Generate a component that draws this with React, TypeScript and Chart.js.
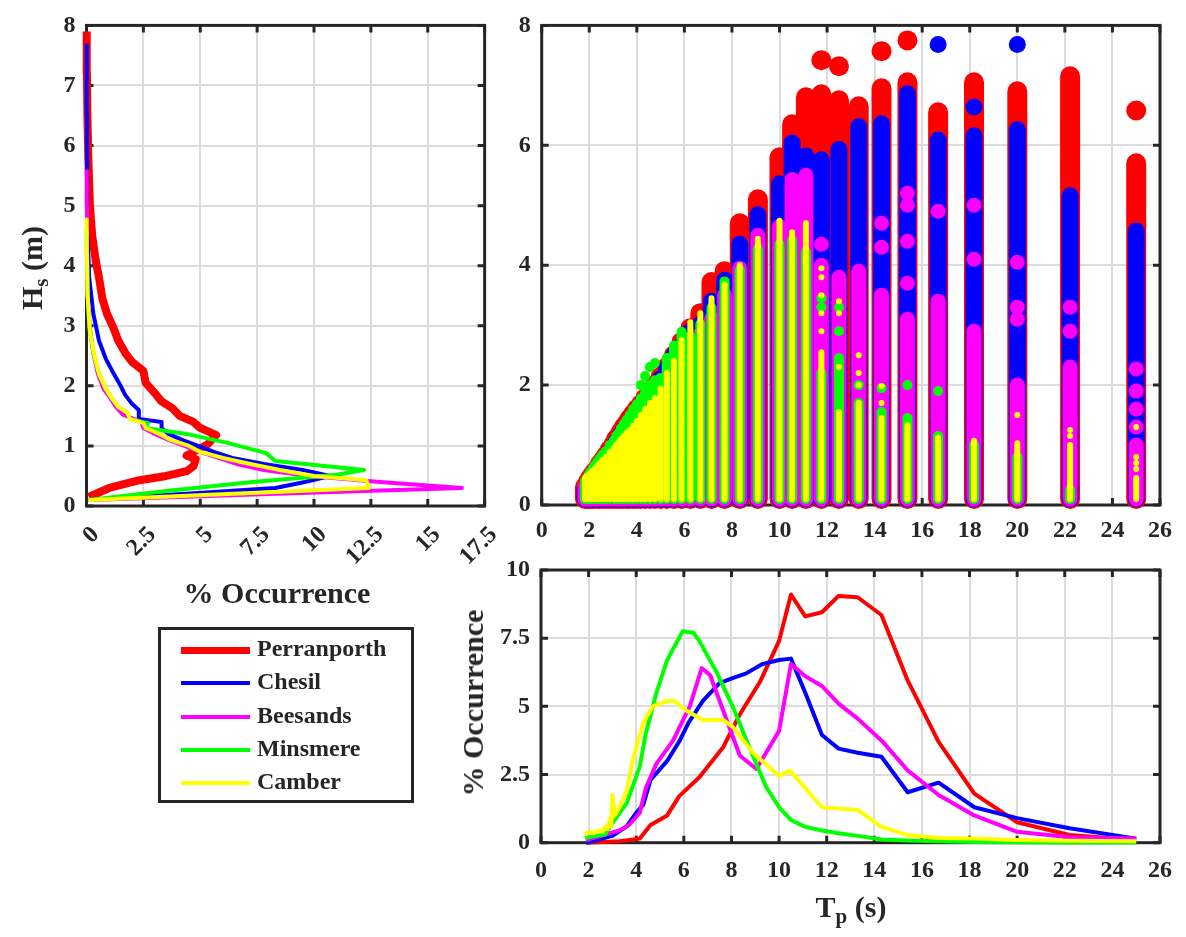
import React, { useEffect, useRef } from 'react';
import { Chart, registerables } from 'chart.js';

Chart.register(...registerables);

const FONT = "'Liberation Serif', 'Times New Roman', Times, serif";
const INK = '#262626';
const GRID = '#dcdcdc';
const TICK_FONT = { family: FONT, size: 24, weight: 'bold' as const };

const SITES = ['Perranporth', 'Chesil', 'Beesands', 'Minsmere', 'Camber'];
const SITE_COLORS = ['#ff0000', '#0000ff', '#ff00ff', '#00ff00', '#ffff00'];

// ---------- Tick values ----------
const OCC_TICKS_LEFT = [0, 2.5, 5, 7.5, 10, 12.5, 15, 17.5];
const HS_TICKS_LEFT = [0, 1, 2, 3, 4, 5, 6, 7, 8];
const HS_TICKS_SCATTER = [0, 2, 4, 6, 8];
const TP_TICKS = [0, 2, 4, 6, 8, 10, 12, 14, 16, 18, 20, 22, 24, 26];
const OCC_TICKS_BOTTOM = [0, 2.5, 5, 7.5, 10];

// ---------- Left panel: [% occurrence, Hs (m)] ----------
const hsDistPerranporth = [
  [0.1, 0.15], [1.0, 0.3], [2.2, 0.42], [3.5, 0.5], [4.4, 0.58], [4.7, 0.66], [4.8, 0.78], [4.4, 0.84],
  [4.8, 0.92], [5.3, 1.02], [5.7, 1.18], [5.0, 1.3], [4.7, 1.4], [4.1, 1.5], [3.8, 1.62], [3.3, 1.74],
  [3.0, 1.88], [2.6, 2.05], [2.5, 2.25], [2.0, 2.4], [1.7, 2.55], [1.4, 2.75], [1.2, 2.95], [0.9, 3.2],
  [0.7, 3.45], [0.55, 3.8], [0.4, 4.1], [0.25, 4.5], [0.15, 5.0], [0.08, 5.8], [0.04, 6.5], [0.02, 7.2], [0.01, 7.9],
];
const hsDistChesil = [
  [0.1, 0.1], [4.2, 0.2], [8.3, 0.3], [9.6, 0.4], [10.7, 0.5], [9.5, 0.6], [7.8, 0.7], [6.4, 0.8], [5.6, 0.9],
  [4.9, 1.0], [4.2, 1.1], [3.6, 1.2], [3.3, 1.3], [3.3, 1.4], [2.3, 1.45], [2.3, 1.6], [2.0, 1.7], [1.7, 1.85],
  [1.5, 2.0], [1.2, 2.2], [0.85, 2.45], [0.55, 2.75], [0.3, 3.2], [0.12, 3.8], [0.05, 4.5], [0.03, 5.5],
  [0.02, 6.5], [0.01, 7.7],
];
const hsDistBeesands = [
  [0.1, 0.1], [8.0, 0.2], [16.5, 0.3], [12.9, 0.4], [9.8, 0.5], [7.8, 0.6], [6.6, 0.7], [5.8, 0.8], [5.0, 0.9],
  [4.3, 1.0], [3.6, 1.1], [3.0, 1.2], [2.5, 1.3], [2.4, 1.4], [1.6, 1.52], [1.3, 1.65], [1.0, 1.82], [0.75, 1.95],
  [0.5, 2.2], [0.3, 2.55], [0.15, 2.95], [0.05, 3.5], [0.03, 4.2], [0.02, 5.0], [0.01, 5.6],
];
const hsDistMinsmere = [
  [0.1, 0.1], [3.5, 0.25], [7.3, 0.4], [11.0, 0.52], [12.2, 0.6], [8.3, 0.75], [7.9, 0.88], [6.2, 1.05],
  [4.4, 1.2], [2.6, 1.3], [2.7, 1.38], [1.9, 1.45], [1.8, 1.55], [1.4, 1.65], [1.1, 1.8], [0.85, 1.95],
  [0.55, 2.2], [0.3, 2.55], [0.12, 3.0], [0.04, 3.6], [0.02, 4.2], [0.01, 4.6],
];
const hsDistCamber = [
  [0.1, 0.1], [6.2, 0.2], [12.4, 0.3], [12.3, 0.43], [10.0, 0.5], [8.5, 0.6], [7.2, 0.7], [6.0, 0.8], [5.0, 0.9],
  [4.5, 1.0], [3.7, 1.1], [3.2, 1.2], [2.6, 1.3], [2.5, 1.38], [1.9, 1.45], [1.8, 1.55], [1.4, 1.65], [1.1, 1.8],
  [0.85, 1.95], [0.55, 2.2], [0.35, 2.5], [0.15, 2.9], [0.05, 3.5], [0.02, 4.2], [0.01, 4.8],
];
const HS_DISTS = [hsDistPerranporth, hsDistChesil, hsDistBeesands, hsDistMinsmere, hsDistCamber];

// ---------- Top-right panel: Tp bins and Hs range per bin ----------
const TP_BINS = [
  1.82, 1.89, 1.96, 2.04, 2.13, 2.22, 2.33, 2.44, 2.56, 2.7, 2.86, 3.03, 3.13, 3.23, 3.33, 3.45,
  3.57, 3.7, 3.85, 4.0, 4.17, 4.35, 4.55, 4.76, 5.0, 5.26, 5.56, 5.88, 6.25, 6.67, 7.14, 7.69,
  8.33, 9.09, 10.0, 10.53, 11.11, 11.76, 12.5, 13.33, 14.29, 15.38, 16.67, 18.18, 20.0, 22.22, 25.0,
];
const HS_MIN = 0.1;
const hsMaxPerranporth = [
  0.3, 0.34, 0.4, 0.45, 0.5, 0.55, 0.6, 0.68, 0.74, 0.82, 0.92, 1.02, 1.1, 1.15, 1.22, 1.3,
  1.36, 1.44, 1.52, 1.6, 1.68, 1.78, 1.9, 2.0, 2.14, 2.3, 2.5, 2.72, 2.95, 3.2, 3.72, 3.9,
  4.7, 5.1, 5.8, 6.35, 6.8, 6.85, 6.75, 6.65, 6.95, 7.05, 6.55, 7.05, 6.9, 7.15, 5.7,
];
const hsMaxChesil = [
  0.25, 0.3, 0.35, 0.4, 0.45, 0.5, 0.55, 0.62, 0.7, 0.78, 0.88, 0.98, 1.05, 1.1, 1.17, 1.25,
  1.3, 1.38, 1.46, 1.55, 1.62, 1.72, 1.85, 1.95, 2.1, 2.28, 2.5, 2.66, 2.9, 3.02, 3.4, 3.75,
  4.35, 4.84, 5.36, 6.04, 5.82, 5.76, 5.93, 6.31, 6.36, 6.86, 6.09, 6.16, 6.26, 5.16, 4.57,
];
const hsMaxBeesands = [
  0.3, 0.35, 0.4, 0.45, 0.48, 0.5, 0.55, 0.6, 0.65, 0.72, 0.8, 0.9, 0.95, 1.0, 1.05, 1.12,
  1.18, 1.25, 1.32, 1.4, 1.48, 1.55, 1.65, 1.75, 1.9, 2.05, 2.25, 2.45, 2.6, 2.85, 3.1, 3.5,
  3.95, 4.5, 4.64, 5.43, 5.5, 4.0, 3.8, 3.9, 3.5, 3.1, 3.4, 2.9, 2.0, 2.3, 1.0,
];
const hsMaxMinsmere = [
  0.4, 0.45, 0.5, 0.55, 0.6, 0.66, 0.72, 0.78, 0.84, 0.9, 1.0, 1.08, 1.15, 1.2, 1.28, 1.35,
  1.42, 1.5, 1.6, 1.68, 1.78, 1.88, 2.0, 2.08, 2.12, 2.45, 2.66, 2.89, 2.82, 3.02, 3.29, 3.73,
  3.92, 4.27, 4.35, 4.41, 4.22, 2.2, 2.45, 1.7, 1.55, 1.45, 1.15, 1.0, 0.8, 0.25, null,
];
const hsMaxCamber = [
  0.45, 0.48, 0.5, 0.53, 0.57, 0.6, 0.65, 0.7, 0.75, 0.8, 0.88, 0.95, 1.0, 1.05, 1.1, 1.15,
  1.2, 1.25, 1.32, 1.4, 1.5, 1.6, 1.7, 1.78, 1.94, 2.2, 2.4, 2.75, 3.05, 3.2, 3.45, 3.68,
  4.0, 4.44, 4.74, 4.55, 4.7, 2.55, 1.55, 1.7, 1.45, 1.33, 1.12, 1.07, 1.03, 1.0, 0.45,
];
const HS_MAXES = [hsMaxPerranporth, hsMaxChesil, hsMaxBeesands, hsMaxMinsmere, hsMaxCamber];

// isolated observations [Tp (s), Hs (m)]
const extraPerranporth = [[11.76, 7.42], [12.5, 7.32], [14.29, 7.57], [15.38, 7.75], [25, 6.58]];
const extraChesil = [[16.67, 7.68], [20, 7.68], [18.18, 6.64]];
const extraBeesands = [
  [11.76, 4.35], [14.29, 4.7], [14.29, 4.3], [15.38, 5.2], [15.38, 5.0], [15.38, 4.4], [15.38, 3.7],
  [16.67, 4.9], [18.18, 5.0], [18.18, 4.1], [20, 4.05], [20, 3.3], [20, 3.1], [22.22, 3.3], [22.22, 2.9],
  [25, 2.27], [25, 1.9], [25, 1.6], [25, 1.3],
];
const extraMinsmere = [
  [4.17, 2.0], [4.35, 2.15], [4.55, 2.3], [4.76, 2.37], [11.76, 3.45], [11.76, 3.3], [12.5, 3.3],
  [12.5, 2.9], [13.33, 2.0], [14.29, 1.95], [15.38, 2.0], [16.67, 1.9],
];
const extraCamber = [
  [11.76, 3.95], [11.76, 3.8], [11.76, 3.5], [11.76, 3.2], [11.76, 2.9], [12.5, 3.4], [12.5, 3.2],
  [12.5, 2.3], [13.33, 2.5], [13.33, 2.2], [13.33, 2.0], [14.29, 1.98], [14.29, 1.7], [20, 1.5],
  [22.22, 1.25], [22.22, 1.15], [25, 1.3], [25, 0.8], [25, 0.7], [25, 0.6],
];
const EXTRAS = [extraPerranporth, extraChesil, extraBeesands, extraMinsmere, extraCamber];

// ---------- Bottom-right panel: [Tp (s), % occurrence] ----------
const tpDistPerranporth = [
  [1.9, 0], [3.3, 0.05], [4.15, 0.15], [4.6, 0.65], [5.3, 1.0], [5.8, 1.7], [6.65, 2.4], [7.65, 3.5],
  [8.35, 4.7], [9.2, 5.9], [10.0, 7.4], [10.5, 9.1], [11.1, 8.3], [11.8, 8.45], [12.5, 9.05], [13.3, 9.0],
  [14.3, 8.35], [15.4, 5.95], [16.7, 3.7], [18.2, 1.8], [20, 0.75], [22.2, 0.28], [25, 0.1],
];
const tpDistChesil = [
  [1.9, 0], [3.0, 0.25], [3.6, 0.6], [4.0, 1.1], [4.3, 1.4], [4.6, 2.3], [5.3, 3.0], [5.8, 3.7], [6.2, 4.4],
  [6.8, 5.2], [7.5, 5.85], [8.1, 6.05], [8.6, 6.2], [9.3, 6.55], [10.0, 6.7], [10.5, 6.75], [11.1, 5.5],
  [11.8, 3.95], [12.5, 3.45], [13.3, 3.3], [14.3, 3.15], [15.4, 1.85], [16.7, 2.2], [18.2, 1.3], [20, 0.9],
  [22.2, 0.53], [25, 0.15],
];
const tpDistBeesands = [
  [1.9, 0.1], [2.7, 0.3], [3.3, 0.45], [3.7, 0.65], [4.15, 1.1], [4.4, 2.0], [4.85, 2.9], [5.55, 3.75],
  [6.25, 5.0], [6.75, 6.4], [7.1, 6.15], [7.8, 4.5], [8.35, 3.2], [9.05, 2.7], [10.0, 4.1], [10.5, 6.55],
  [11.1, 6.1], [11.8, 5.75], [12.5, 5.1], [13.3, 4.55], [14.3, 3.75], [15.4, 2.65], [16.7, 1.75],
  [18.2, 1.0], [20, 0.4], [22.2, 0.2], [25, 0.15],
];
const tpDistMinsmere = [
  [1.85, 0.17], [2.3, 0.25], [2.7, 0.3], [3.0, 0.72], [3.6, 1.45], [4.15, 2.8], [4.4, 4.0], [4.85, 5.5],
  [5.3, 6.7], [5.95, 7.75], [6.4, 7.7], [6.65, 7.4], [7.35, 6.3], [8.05, 5.0], [8.75, 3.5], [9.45, 2.05],
  [10.0, 1.3], [10.5, 0.83], [11.1, 0.58], [11.8, 0.45], [12.5, 0.35], [13.3, 0.25], [14.3, 0.12],
  [15.4, 0.08], [16.7, 0.05], [18.2, 0.03], [20, 0.02], [22.2, 0.01], [25, 0.01],
];
const tpDistCamber = [
  [1.85, 0.28], [2.0, 0.4], [2.2, 0.35], [2.4, 0.45], [2.6, 0.4], [2.7, 0.6], [2.8, 0.5], [2.9, 0.9],
  [2.95, 0.6], [3.0, 1.75], [3.1, 1.0], [3.3, 1.3], [3.6, 1.9], [3.85, 3.0], [4.3, 4.4], [4.7, 5.0],
  [5.3, 5.2], [5.6, 5.2], [6.1, 4.85], [6.8, 4.5], [7.65, 4.5], [8.05, 4.25], [8.9, 3.3], [10.0, 2.45],
  [10.45, 2.65], [11.15, 1.95], [11.8, 1.3], [12.5, 1.25], [13.3, 1.2], [14.3, 0.58], [15.4, 0.28],
  [16.7, 0.17], [18.2, 0.15], [20, 0.1], [22.2, 0.07], [25, 0.05],
];
const TP_DISTS = [tpDistPerranporth, tpDistChesil, tpDistBeesands, tpDistMinsmere, tpDistCamber];

// ---------- styling ----------
const SCATTER_DIAMETERS = [20, 17, 15, 10, 6];

const boxPlugin = {
  id: 'matlabBox',
  beforeDatasetsDraw(chart: any) {
    const { ctx, chartArea: a, scales } = chart;
    const xs = scales.x;
    const ys = scales.y;
    const L = 7;
    ctx.save();
    ctx.strokeStyle = INK;
    ctx.lineWidth = 3;
    ctx.beginPath();
    xs.ticks.forEach((t: any) => {
      const px = xs.getPixelForValue(t.value);
      ctx.moveTo(px, a.bottom);
      ctx.lineTo(px, a.bottom - L);
      ctx.moveTo(px, a.top);
      ctx.lineTo(px, a.top + L);
    });
    ys.ticks.forEach((t: any) => {
      const py = ys.getPixelForValue(t.value);
      ctx.moveTo(a.left, py);
      ctx.lineTo(a.left + L, py);
      ctx.moveTo(a.right, py);
      ctx.lineTo(a.right - L, py);
    });
    ctx.stroke();
    ctx.strokeRect(a.left, a.top, a.right - a.left, a.bottom - a.top);
    ctx.restore();
  },
};

function makeScale(ticks: number[], opts: any = {}) {
  return {
    type: 'linear',
    min: ticks[0],
    max: ticks[ticks.length - 1],
    afterBuildTicks: (s: any) => {
      s.ticks = ticks.map((v) => ({ value: v }));
    },
    afterFit: opts.afterFit,
    ticks: {
      autoSkip: false,
      font: TICK_FONT,
      color: INK,
      padding: opts.padding ?? 11,
      minRotation: opts.rotation ?? 0,
      maxRotation: opts.rotation ?? 0,
      labelOffset: opts.labelOffset ?? 0,
      callback: (v: number) => String(v),
    },
    grid: { color: GRID, lineWidth: 2, drawTicks: false },
    border: { display: false },
  };
}

function baseOptions(padding: any, scales: any) {
  return {
    responsive: false,
    animation: false,
    events: [],
    layout: { padding },
    plugins: { legend: { display: false }, tooltip: { enabled: false } },
    scales,
  };
}

function leftConfig(): any {
  return {
    type: 'line',
    data: {
      datasets: SITES.map((name, i) => ({
        label: name,
        data: HS_DISTS[i].map(([p, h]) => ({ x: p, y: h })),
        borderColor: SITE_COLORS[i],
        borderWidth: i === 0 ? 8 : 4,
        pointRadius: 0,
        fill: false,
        tension: 0,
        clip: false,
        order: SITES.length - i,
        borderJoinStyle: 'round',
      })),
    },
    options: baseOptions(
      { top: 15, right: 24, left: 0, bottom: 0 },
      {
        x: makeScale(OCC_TICKS_LEFT, {
          rotation: 45,
          labelOffset: 9,
          padding: 15,
          afterFit: (s: any) => { s.height = 114; },
        }),
        y: makeScale(HS_TICKS_LEFT, { afterFit: (s: any) => { s.width = 86.5; } }),
      },
    ),
    plugins: [boxPlugin],
  };
}

function scatterConfig(): any {
  const datasets: any[] = [];
  SITES.forEach((name, i) => {
    const cols: any[] = [];
    TP_BINS.forEach((tp, k) => {
      const m = HS_MAXES[i][k];
      if (m == null) return;
      cols.push({ x: tp, y: HS_MIN }, { x: tp, y: m }, { x: tp, y: null });
    });
    const d = SCATTER_DIAMETERS[i];
    datasets.push({
      label: name,
      data: cols,
      borderColor: SITE_COLORS[i],
      borderWidth: d,
      borderCapStyle: 'round',
      borderJoinStyle: 'round',
      pointRadius: 0,
      spanGaps: false,
      fill: false,
      clip: false,
      order: (SITES.length - i) * 2,
    });
    datasets.push({
      label: name + ' extremes',
      data: EXTRAS[i].map(([t, h]) => ({ x: t, y: h })),
      showLine: false,
      pointRadius: d / 2,
      pointBorderWidth: 0,
      pointBackgroundColor: SITE_COLORS[i],
      pointBorderColor: SITE_COLORS[i],
      clip: false,
      order: (SITES.length - i) * 2 - 1,
    });
  });
  return {
    type: 'line',
    data: { datasets },
    options: baseOptions(
      { top: 15, right: 26, left: 0, bottom: 0 },
      {
        x: makeScale(TP_TICKS, { padding: 11, afterFit: (s: any) => { s.height = 55; } }),
        y: makeScale(HS_TICKS_SCATTER, { afterFit: (s: any) => { s.width = 101.7; } }),
      },
    ),
    plugins: [boxPlugin],
  };
}

function bottomConfig(): any {
  return {
    type: 'line',
    data: {
      datasets: SITES.map((name, i) => ({
        label: name,
        data: TP_DISTS[i].map(([t, p]) => ({ x: t, y: p })),
        borderColor: SITE_COLORS[i],
        borderWidth: 4,
        pointRadius: 0,
        fill: false,
        tension: 0,
        clip: false,
        order: SITES.length - i,
        borderJoinStyle: 'round',
      })),
    },
    options: baseOptions(
      { top: 30, right: 26, left: 0, bottom: 0 },
      {
        x: makeScale(TP_TICKS, { padding: 14, afterFit: (s: any) => { s.height = 94.3; } }),
        y: makeScale(OCC_TICKS_BOTTOM, { afterFit: (s: any) => { s.width = 101; } }),
      },
    ),
    plugins: [boxPlugin],
  };
}

function ChartCanvas({ left, top, width, height, config }: any) {
  const ref = useRef<HTMLCanvasElement>(null);
  useEffect(() => {
    const chart = new Chart(ref.current as HTMLCanvasElement, config());
    return () => chart.destroy();
  }, []);
  return (
    <canvas
      ref={ref}
      width={width}
      height={height}
      style={{ position: 'absolute', left, top, width, height }}
    />
  );
}

const titleBase: any = {
  position: 'absolute',
  font: `bold 30px ${FONT}`,
  color: INK,
  whiteSpace: 'nowrap',
  lineHeight: 1,
  transform: 'translate(-50%, -50%)',
};
const subStyle: any = { fontSize: '70%', verticalAlign: '-0.3em', lineHeight: 0 };

function Legend() {
  const boxLeft = 158;
  const boxTop = 627;
  return (
    <div
      style={{
        position: 'absolute',
        left: boxLeft,
        top: boxTop,
        width: 256,
        height: 176,
        boxSizing: 'border-box',
        border: `3px solid ${INK}`,
        background: '#fff',
      }}
    >
      {SITES.map((name, i) => {
        const cy = 650 + i * 33.25 - boxTop - 3;
        const lw = i === 0 ? 7 : 4;
        return (
          <div key={name} style={{ position: 'absolute', left: 0, top: cy - 15, width: 250, height: 30 }}>
            <div
              style={{
                position: 'absolute',
                left: 20,
                top: 15 - lw / 2,
                width: 69,
                height: lw,
                background: SITE_COLORS[i],
              }}
            />
            <div
              style={{
                position: 'absolute',
                left: 96,
                top: 0,
                height: 30,
                lineHeight: '30px',
                font: `bold 24px ${FONT}`,
                color: INK,
                whiteSpace: 'nowrap',
              }}
            >
              {name}
            </div>
          </div>
        );
      })}
    </div>
  );
}

export default function App() {
  return (
    <div style={{ position: 'absolute', left: 0, top: 0, width: 1186, height: 937, background: '#fff', overflow: 'hidden' }}>
      <ChartCanvas left={0} top={0} width={520} height={620} config={leftConfig} />
      <ChartCanvas left={440} top={0} width={746} height={560} config={scatterConfig} />
      <ChartCanvas left={440} top={540} width={746} height={397} config={bottomConfig} />

      <div style={{ ...titleBase, left: 32, top: 268, transform: 'translate(-50%, -50%) rotate(-90deg)' }}>
        H<span style={subStyle}>s</span> (m)
      </div>
      <div style={{ ...titleBase, left: 277, top: 593 }}>% Occurrence</div>
      <div style={{ ...titleBase, left: 473, top: 703, transform: 'translate(-50%, -50%) rotate(-90deg)' }}>
        % Occurrence
      </div>
      <div style={{ ...titleBase, left: 851, top: 907 }}>
        T<span style={subStyle}>p</span> (s)
      </div>
      <Legend />
    </div>
  );
}
